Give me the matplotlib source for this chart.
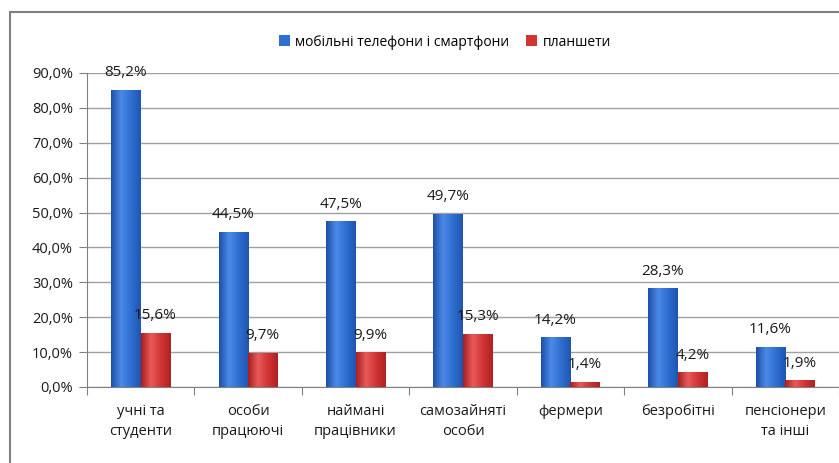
import matplotlib.pyplot as plt
from matplotlib.patches import Rectangle
from matplotlib.colors import LinearSegmentedColormap
import numpy as np

plt.rcParams['font.family'] = ['Open Sans', 'DejaVu Sans']

categories = ['учні та\nстуденти', 'особи\nпрацюючі', 'наймані\nпрацівники',
              'самозайняті\nособи', 'фермери', 'безробітні', 'пенсіонери\nта інші']
phones = [85.2, 44.5, 47.5, 49.7, 14.2, 28.3, 11.6]
tablets = [15.6, 9.7, 9.9, 15.3, 1.4, 4.2, 1.9]
series_names = ['мобільні телефони і смартфони', 'планшети']

blue = '#2f6fd2'
red = '#d23434'
blue_cm = LinearSegmentedColormap.from_list('b', ['#1d4fa8', '#4b8ae6', '#2f6fd2', '#1f55b0'])
red_cm = LinearSegmentedColormap.from_list('r', ['#a81f1f', '#e85a5a', '#d23434', '#b02222'])

fig = plt.figure(figsize=(8.39, 4.63), dpi=100)
# outer frame
fig.patches.append(Rectangle((10/839, -0.1), 1.2, 1 - 12/463 + 0.1, transform=fig.transFigure,
                             fill=False, edgecolor='#808080', linewidth=1.5))

ax = fig.add_axes([87/839, 1 - 387/463, 1 - 87/839, (387 - 73)/463])

x = np.arange(len(categories)) + 0.5
w = 0.27
b1 = ax.bar(x - 0.14, phones, w, color=blue, edgecolor='none', zorder=3,
            label=series_names[0])
b2 = ax.bar(x + 0.135, tablets, w, color=red, edgecolor='none', zorder=3,
            label=series_names[1])

# cylinder-like shading
grad = np.linspace(0, 1, 64).reshape(1, -1)
for rects, cm in ((b1, blue_cm), (b2, red_cm)):
    for r in rects:
        x0, h = r.get_x(), r.get_height()
        im = ax.imshow(grad, cmap=cm, aspect='auto', extent=[x0, x0 + r.get_width(), 0, h],
                       zorder=3.5, interpolation='bilinear')
        im.set_clip_path(r)

for rects, vals in ((b1, phones), (b2, tablets)):
    for r, v in zip(rects, vals):
        ax.annotate(('%.1f%%' % v).replace('.', ','),
                    (r.get_x() + r.get_width() / 2, v), xytext=(0, 7),
                    textcoords='offset points', ha='center', va='bottom',
                    fontsize=11, color='#1a1a1a', zorder=4)

ax.set_xlim(0, len(categories))
ax.set_ylim(0, 90)
ax.set_yticks(np.arange(0, 91, 10))
ax.set_yticklabels([('%.1f%%' % t).replace('.', ',') for t in np.arange(0, 91, 10)],
                   fontsize=10.5, color='#1a1a1a')
ax.set_xticks(np.arange(len(categories) + 1))
ax.set_xticklabels([])
ax.set_xticks(x, minor=True)
ax.set_xticklabels(categories, minor=True, fontsize=10.5, linespacing=1.5, color='#1a1a1a')
ax.tick_params(axis='x', which='minor', length=0, pad=12)
ax.tick_params(axis='x', which='major', length=6, color='#808080')
ax.tick_params(axis='y', length=6, color='#808080', pad=4)

ax.grid(axis='y', color='#a0a0a0', linewidth=1, zorder=0)
for s in ['top', 'right']:
    ax.spines[s].set_visible(False)
ax.spines['left'].set_color('#808080')
ax.spines['bottom'].set_color('#808080')

fig.legend(loc='center', bbox_to_anchor=(445/839, 1 - 42/463), ncol=2, frameon=False,
           fontsize=10, handlelength=0.8, handleheight=0.8, handletextpad=0.4, columnspacing=1.2)

fig.savefig('out.png', dpi=100)
